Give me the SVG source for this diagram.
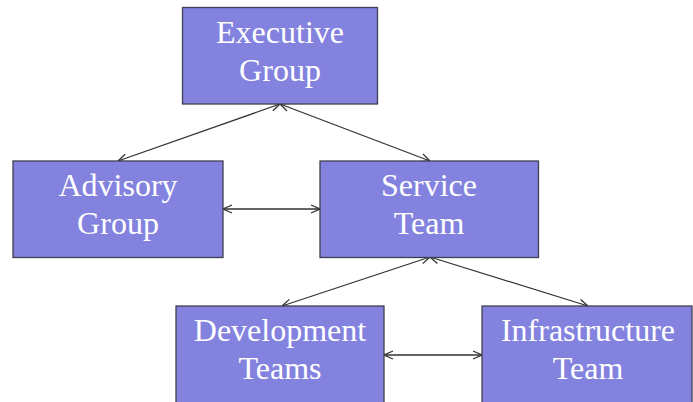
<svg xmlns="http://www.w3.org/2000/svg" width="693" height="402" viewBox="0 0 693 402">
  <style>
    .box { fill: #8383df; stroke: #3f3f4f; stroke-width: 1.3; }
    .label { font-family: "Liberation Serif", "Times New Roman", serif; font-size: 32px; fill: #ffffff; text-anchor: middle; }
    .link { stroke: #333333; stroke-width: 1.3; fill: none; marker-start: url(#arr); marker-end: url(#arr); }
  </style>
  <defs>
    <marker id="arr" viewBox="0 0 10 10" refX="10" refY="5" markerWidth="10" markerHeight="10" markerUnits="userSpaceOnUse" orient="auto-start-reverse">
      <path d="M1,1 L10,5 L1,9" fill="none" stroke="#333333" stroke-width="1.3"/>
    </marker>
  </defs>

  <g id="connectors">
    <line class="link" x1="280" y1="104" x2="118" y2="161"/>
    <line class="link" x1="280" y1="104" x2="430" y2="161"/>
    <line class="link" x1="223" y1="209" x2="320" y2="209"/>
    <line class="link" x1="430" y1="257" x2="282" y2="306"/>
    <line class="link" x1="430" y1="257" x2="588" y2="306"/>
    <line class="link" x1="384" y1="355" x2="482" y2="355"/>
  </g>

  <g id="executive">
    <rect class="box" x="182.5" y="7.5" width="195" height="96.5"/>
    <text class="label" x="280" y="43">Executive</text>
    <text class="label" x="280" y="81">Group</text>
  </g>

  <g id="advisory">
    <rect class="box" x="13" y="161" width="210" height="96.5"/>
    <text class="label" x="118" y="196">Advisory</text>
    <text class="label" x="118" y="234">Group</text>
  </g>

  <g id="service">
    <rect class="box" x="320" y="161" width="218.5" height="96.5"/>
    <text class="label" x="429" y="196">Service</text>
    <text class="label" x="429" y="234">Team</text>
  </g>

  <g id="development">
    <rect class="box" x="176" y="306" width="208" height="100"/>
    <text class="label" x="280" y="341">Development</text>
    <text class="label" x="280" y="379">Teams</text>
  </g>

  <g id="infrastructure">
    <rect class="box" x="482" y="306" width="210" height="100"/>
    <text class="label" x="588" y="341">Infrastructure</text>
    <text class="label" x="588" y="379">Team</text>
  </g>
</svg>
